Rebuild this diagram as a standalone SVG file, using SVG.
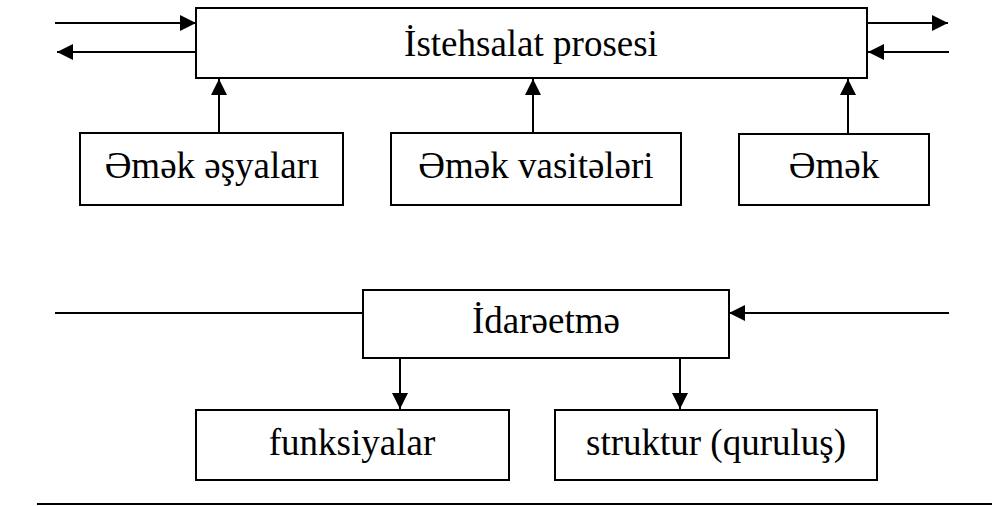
<svg xmlns="http://www.w3.org/2000/svg" width="994" height="506" viewBox="0 0 994 506">
<style>
.box{fill:#fff;stroke:#000;stroke-width:2}
.ln{stroke:#000;stroke-width:2;fill:none}
.t{font-family:"Liberation Serif","DejaVu Serif","Times New Roman",serif;font-size:37px;fill:#000;text-anchor:middle}
</style>
<defs>
<marker id="ah" viewBox="0 0 16 16" refX="16" refY="8" markerWidth="16" markerHeight="16" markerUnits="userSpaceOnUse" orient="auto">
<path d="M0,0 L16,8 L0,16 Z" fill="#000"/>
</marker>
</defs>
<rect width="994" height="506" fill="#fff"/>
<g id="connectors">
<line class="ln" x1="55" y1="23" x2="196" y2="23" marker-end="url(#ah)"/>
<line class="ln" x1="196" y1="52" x2="57" y2="52" marker-end="url(#ah)"/>
<line class="ln" x1="867" y1="23" x2="948" y2="23" marker-end="url(#ah)"/>
<line class="ln" x1="949" y1="52" x2="868" y2="52" marker-end="url(#ah)"/>
<line class="ln" x1="219" y1="133" x2="219" y2="79" marker-end="url(#ah)"/>
<line class="ln" x1="533" y1="133" x2="533" y2="79" marker-end="url(#ah)"/>
<line class="ln" x1="848" y1="134" x2="848" y2="79" marker-end="url(#ah)"/>
<line class="ln" x1="55" y1="313" x2="363" y2="313"/>
<line class="ln" x1="949" y1="313" x2="729" y2="313" marker-end="url(#ah)"/>
<line class="ln" x1="400" y1="358" x2="400" y2="409" marker-end="url(#ah)"/>
<line class="ln" x1="680" y1="358" x2="680" y2="409" marker-end="url(#ah)"/>
<line class="ln" x1="37" y1="504" x2="992" y2="504"/>
</g>
<g id="istehsalat">
<rect class="box" x="196" y="8" width="671" height="70"/>
<text class="t" x="531" y="56">İstehsalat prosesi</text>
</g>
<g id="emek-esyalari">
<rect class="box" x="80" y="133" width="263" height="72"/>
<text class="t" x="212" y="178">Əmək əşyaları</text>
</g>
<g id="emek-vasiteleri">
<rect class="box" x="391" y="133" width="290" height="72"/>
<text class="t" x="536" y="178">Əmək vasitələri</text>
</g>
<g id="emek">
<rect class="box" x="739" y="134" width="190" height="71"/>
<text class="t" x="834" y="178">Əmək</text>
</g>
<g id="idareetme">
<rect class="box" x="363" y="290" width="366" height="68"/>
<text class="t" x="546" y="333">İdarəetmə</text>
</g>
<g id="funksiyalar">
<rect class="box" x="196" y="410" width="313" height="70"/>
<text class="t" x="352" y="455">funksiyalar</text>
</g>
<g id="struktur">
<rect class="box" x="555" y="410" width="322" height="70"/>
<text class="t" x="716" y="455">struktur (quruluş)</text>
</g>
</svg>
